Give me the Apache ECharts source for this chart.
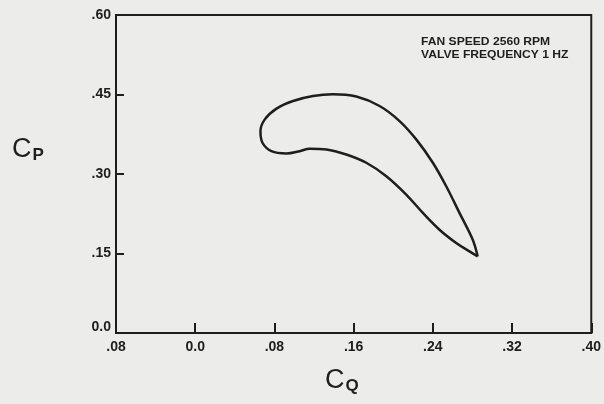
<!DOCTYPE html>
<html>
<head>
<meta charset="utf-8">
<script src="https://cdn.jsdelivr.net/npm/echarts@6/dist/echarts.min.js"></script>
<style>
  html, body { margin: 0; padding: 0; background: #ececea; }
  #chart { width: 604px; height: 404px; }
</style>
</head>
<body>
<div id="chart"></div>
<script>
// Hysteresis loop of pressure coefficient vs. flow coefficient
const loopCq = [0.2853, 0.2803, 0.2669, 0.2535, 0.2400, 0.2232, 0.2064, 0.1862, 0.1627, 0.1391,
                0.1190, 0.0988, 0.0821, 0.0703, 0.0659, 0.0679, 0.0770, 0.0921, 0.1055, 0.1156,
                0.1325, 0.1526, 0.1728, 0.1930, 0.2131, 0.2299, 0.2467, 0.2636, 0.2770, 0.2853];
const loopCp = [0.1444, 0.1760, 0.2266, 0.2769, 0.3212, 0.3653, 0.3999, 0.4283, 0.4461, 0.4505,
                0.4472, 0.4378, 0.4234, 0.4031, 0.3810, 0.3590, 0.3431, 0.3388, 0.3431, 0.3477,
                0.3464, 0.3369, 0.3212, 0.2958, 0.2612, 0.2266, 0.1949, 0.1698, 0.1539, 0.1444];

const xTickValues = [-0.08, 0, 0.08, 0.16, 0.24, 0.32, 0.40];
const xTickLabels = ['.08', '0.0', '.08', '.16', '.24', '.32', '.40'];
const yTickValues = [0, 0.15, 0.30, 0.45, 0.60];
const yTickLabels = ['0.0', '.15', '.30', '.45', '.60'];

const noteLines = ['FAN SPEED 2560 RPM', 'VALVE FREQUENCY 1 HZ'];

const ink = '#1e1e1e';
const font = '"Liberation Sans", Arial, sans-serif';

function labelFor(values, labels, v) {
  for (let i = 0; i < values.length; i++) {
    if (Math.abs(values[i] - v) < 1e-6) return labels[i];
  }
  return '';
}

const chart = echarts.init(document.getElementById('chart'), null, { renderer: 'canvas' });

const symbolText = (main, sub) => ({
  text: '{c|' + main + '}{s|' + sub + '}',
  rich: {
    c: { fontSize: 27, fontFamily: font, fill: ink, fontWeight: 'normal' },
    s: { fontSize: 17, fontFamily: font, fontWeight: 'bold', fill: ink, padding: [12, 0, 0, 1] }
  }
});

chart.setOption({
  backgroundColor: '#ececea',
  animation: false,
  grid: {
    left: 116, right: 12, top: 15, bottom: 71,
    show: true, borderColor: ink, borderWidth: 2, backgroundColor: 'transparent'
  },
  xAxis: {
    type: 'value', min: -0.08, max: 0.40, interval: 0.08,
    axisLine: { show: true, onZero: false, lineStyle: { color: ink, width: 2 } },
    axisTick: { show: true, inside: true, length: 10, lineStyle: { color: ink, width: 2 } },
    splitLine: { show: false },
    axisLabel: {
      color: ink, fontFamily: font, fontWeight: 'bold', fontSize: 14, margin: 7,
      formatter: v => labelFor(xTickValues, xTickLabels, v)
    }
  },
  yAxis: {
    type: 'value', min: 0, max: 0.60, interval: 0.15,
    axisLine: { show: true, onZero: false, lineStyle: { color: ink, width: 2 } },
    axisTick: { show: true, inside: true, length: 8, lineStyle: { color: ink, width: 2 } },
    splitLine: { show: false },
    axisLabel: {
      color: ink, fontFamily: font, fontWeight: 'bold', fontSize: 14, margin: 5,
      // the baseline label sits a little above the corner
      formatter: v => v === 0 ? '{lift|' + labelFor(yTickValues, yTickLabels, v) + '}'
                              : labelFor(yTickValues, yTickLabels, v),
      rich: {
        lift: { fontFamily: font, fontWeight: 'bold', fontSize: 14, color: ink, padding: [0, 0, 12, 0] }
      }
    }
  },
  series: [{
    type: 'line',
    data: loopCq.map((q, i) => [q, loopCp[i]]),
    smooth: 0.35,
    showSymbol: false,
    lineStyle: { color: ink, width: 2.5 },
    z: 5
  }],
  graphic: [
    { type: 'text', left: 12, top: 136, style: symbolText('C', 'P') },
    { type: 'text', left: 325, top: 367, style: symbolText('C', 'Q') },
    {
      type: 'text', x: 421, y: 35, scaleX: 1.1,
      style: {
        text: noteLines.join('\n'),
        fontSize: 11, fontWeight: 'bold', fontFamily: font, fill: ink, lineHeight: 13
      }
    }
  ]
});
</script>
</body>
</html>
